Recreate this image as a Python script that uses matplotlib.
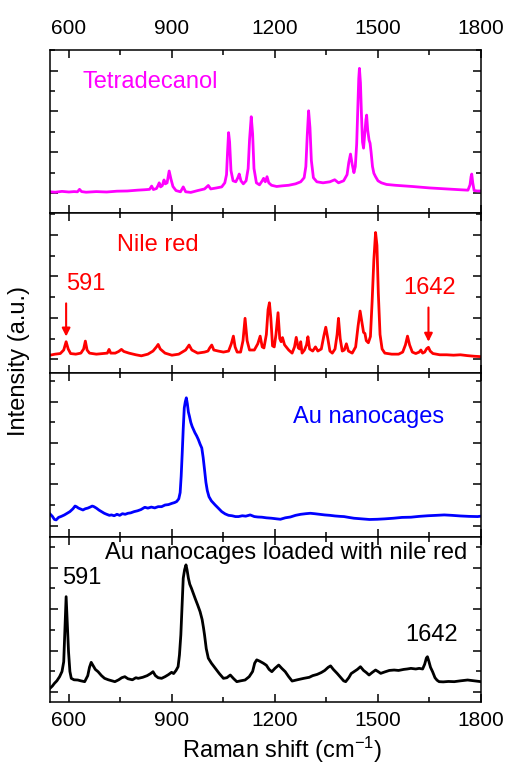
import matplotlib
matplotlib.use("Agg")
import matplotlib.pyplot as plt
from matplotlib.ticker import MultipleLocator

plt.rcParams['font.family'] = ['Liberation Sans', 'DejaVu Sans']
plt.rcParams['mathtext.fontset'] = 'custom'
plt.rcParams['mathtext.rm'] = 'Liberation Sans'
plt.rcParams['mathtext.it'] = 'Liberation Sans:italic'

# ---- Tetradecanol (magenta) ----
wn_tetra = [545, 560, 580, 600, 615, 625, 631, 637, 650, 680,
            710, 740, 770, 800, 820, 835, 841, 846, 855, 860,
            863, 867, 872, 877, 881, 886, 892, 897, 903, 912,
            925, 933, 940, 955, 975, 995, 1006, 1013, 1030, 1045,
            1054, 1059, 1062, 1065, 1068, 1072, 1078, 1086, 1092, 1096,
            1101, 1108, 1116, 1122, 1126, 1131, 1135, 1139, 1146, 1155,
            1163, 1167, 1172, 1177, 1182, 1190, 1205, 1220, 1240, 1260,
            1275, 1285, 1290, 1294, 1298, 1302, 1306, 1312, 1322, 1340,
            1360, 1374, 1385, 1400, 1410, 1415, 1420, 1425, 1430, 1434,
            1438, 1441, 1444, 1446, 1449, 1452, 1455, 1458, 1462, 1465,
            1467, 1470, 1474, 1477, 1480, 1484, 1488, 1493, 1500, 1510,
            1525, 1550, 1600, 1650, 1700, 1740, 1762, 1768, 1771, 1773,
            1776, 1780, 1790, 1800]
int_tetra = [0.06, 0.04, 0.08, 0.05, 0.07, 0.06, 0.18, 0.07, 0.04, 0.07,
             0.05, 0.09, 0.10, 0.14, 0.16, 0.18, 0.34, 0.17, 0.22, 0.38,
             0.50, 0.30, 0.36, 0.64, 0.45, 0.50, 1.08, 0.70, 0.32, 0.12,
             0.06, 0.30, 0.06, 0.03, 0.12, 0.20, 0.37, 0.20, 0.25, 0.30,
             0.50, 0.90, 2.00, 2.96, 2.50, 1.10, 0.60, 0.55, 0.75, 0.93,
             0.60, 0.45, 0.60, 1.20, 2.60, 3.74, 2.90, 1.20, 0.50, 0.40,
             0.60, 0.72, 0.55, 0.80, 0.50, 0.38, 0.32, 0.35, 0.38, 0.45,
             0.55, 0.75, 1.30, 2.80, 4.03, 3.20, 1.60, 0.75, 0.55, 0.50,
             0.55, 0.65, 0.50, 0.60, 0.90, 1.50, 1.91, 1.40, 1.00, 1.30,
             2.40, 4.00, 5.60, 6.11, 5.40, 3.80, 2.50, 2.20, 3.00, 3.60,
             3.82, 3.10, 2.60, 2.44, 2.00, 1.30, 0.97, 0.80, 0.60, 0.50,
             0.42, 0.38, 0.32, 0.25, 0.20, 0.16, 0.14, 0.40, 0.80, 0.93,
             0.50, 0.12, 0.10, 0.10]

# ---- Nile red (red) ----
wn_nile = [545, 560, 575, 585, 592, 598, 605, 620, 635, 643,
           648, 653, 660, 680, 700, 712, 717, 722, 735, 745,
           753, 760, 775, 795, 811, 830, 845, 855, 860, 866,
           880, 900, 920, 940, 950, 958, 975, 995, 1005, 1010,
           1016, 1022, 1035, 1050, 1065, 1073, 1079, 1084, 1090, 1100,
           1107, 1113, 1119, 1126, 1140, 1150, 1157, 1163, 1168, 1175,
           1180, 1184, 1188, 1193, 1198, 1203, 1209, 1214, 1218, 1222,
           1228, 1240, 1250, 1257, 1262, 1268, 1272, 1275, 1279, 1286,
           1292, 1296, 1301, 1310, 1318, 1325, 1335, 1342, 1348, 1354,
           1360, 1367, 1375, 1381, 1385, 1390, 1396, 1402, 1408, 1414,
           1425, 1435, 1442, 1448, 1453, 1458, 1462, 1466, 1472, 1478,
           1483, 1488, 1493, 1497, 1501, 1506, 1512, 1520, 1540, 1560,
           1572, 1580, 1586, 1592, 1600, 1610, 1620, 1625, 1630, 1636,
           1642, 1647, 1652, 1660, 1680, 1700, 1720, 1740, 1760, 1780,
           1800]
int_nile = [0.20, 0.25, 0.28, 0.45, 0.85, 0.50, 0.28, 0.25, 0.30, 0.50,
            0.88, 0.45, 0.30, 0.25, 0.28, 0.30, 0.48, 0.30, 0.30, 0.38,
            0.48, 0.38, 0.30, 0.22, 0.17, 0.25, 0.40, 0.60, 0.72, 0.50,
            0.30, 0.20, 0.25, 0.45, 0.69, 0.45, 0.30, 0.35, 0.40, 0.55,
            0.69, 0.45, 0.40, 0.35, 0.40, 0.75, 1.12, 0.60, 0.35, 0.35,
            0.90, 1.98, 0.90, 0.45, 0.45, 0.75, 1.12, 0.60, 0.55, 1.20,
            2.40, 2.73, 2.00, 0.65, 0.60, 1.20, 2.25, 1.00, 0.85, 1.05,
            0.70, 0.45, 0.30, 0.60, 1.06, 0.55, 0.50, 0.85, 0.30, 0.45,
            0.70, 1.09, 0.50, 0.40, 0.60, 0.40, 0.50, 1.10, 1.55, 1.00,
            0.40, 0.30, 0.50, 1.20, 1.98, 1.00, 0.40, 0.45, 0.75, 0.40,
            0.30, 0.60, 1.60, 2.33, 1.80, 1.30, 1.25, 0.90, 0.80, 1.10,
            2.80, 4.80, 6.12, 5.50, 3.20, 1.20, 0.50, 0.30, 0.25, 0.25,
            0.35, 0.70, 1.12, 0.70, 0.35, 0.28, 0.35, 0.45, 0.30, 0.35,
            0.52, 0.58, 0.40, 0.28, 0.22, 0.22, 0.20, 0.22, 0.18, 0.15,
            0.13]

# ---- Au nanocages (blue) ----
wn_au = [545, 552, 558, 563, 570, 578, 587, 595, 603, 612,
         618, 622, 628, 635, 641, 648, 655, 662, 668, 673,
         680, 688, 695, 703, 710, 718, 724, 732, 740, 748,
         756, 764, 772, 780, 790, 800, 810, 821, 830, 840,
         850, 860, 870, 880, 890, 900, 908, 914, 920, 924,
         927, 930, 933, 936, 939, 942, 945, 948, 951, 955,
         959, 963, 967, 972, 977, 982, 987, 991, 995, 999,
         1003, 1008, 1015, 1026, 1035, 1045, 1055, 1065, 1075, 1085,
         1094, 1105, 1115, 1128, 1140, 1150, 1162, 1175, 1190, 1205,
         1216, 1230, 1245, 1260, 1275, 1290, 1303, 1315, 1330, 1345,
         1360, 1375, 1390, 1401, 1415, 1430, 1445, 1460, 1475, 1498,
         1520, 1545, 1570, 1596, 1620, 1645, 1670, 1693, 1715, 1740,
         1765, 1790, 1800]
int_au = [0.57, 0.45, 0.30, 0.28, 0.40, 0.45, 0.52, 0.60, 0.68, 0.82,
          0.95, 0.92, 0.85, 0.80, 0.76, 0.82, 0.85, 0.90, 0.95, 0.92,
          0.85, 0.75, 0.68, 0.60, 0.55, 0.50, 0.52, 0.48, 0.55, 0.50,
          0.58, 0.55, 0.60, 0.62, 0.68, 0.72, 0.78, 0.89, 0.85, 0.90,
          0.86, 0.92, 0.92, 1.00, 1.02, 1.08, 1.12, 1.17, 1.30, 1.60,
          2.40, 3.50, 4.70, 5.70, 6.00, 6.19, 5.90, 5.50, 5.30, 5.00,
          4.80, 4.65, 4.50, 4.35, 4.17, 3.95, 3.76, 3.30, 2.71, 2.10,
          1.70, 1.40, 1.20, 1.00, 0.85, 0.68, 0.57, 0.50, 0.48, 0.44,
          0.44, 0.48, 0.46, 0.52, 0.44, 0.42, 0.41, 0.38, 0.36, 0.33,
          0.31, 0.38, 0.42, 0.50, 0.55, 0.58, 0.60, 0.58, 0.55, 0.52,
          0.50, 0.47, 0.45, 0.44, 0.40, 0.36, 0.34, 0.32, 0.30, 0.31,
          0.33, 0.36, 0.40, 0.41, 0.45, 0.48, 0.50, 0.52, 0.50, 0.47,
          0.45, 0.44, 0.46]

# ---- Au nanocages loaded with nile red (black) ----
wn_load = [545, 552, 558, 565, 573, 580, 585, 589, 592, 595,
           599, 603, 607, 615, 626, 635, 646, 655, 660, 665,
           670, 677, 685, 695, 704, 715, 725, 734, 745, 754,
           763, 772, 785, 795, 802, 815, 828, 838, 845, 852,
           860, 870, 880, 890, 899, 905, 912, 918, 922, 926,
           930, 933, 937, 941, 944, 948, 952, 957, 962, 968,
           975, 982, 988, 992, 995, 1000, 1006, 1015, 1026, 1038,
           1050, 1060, 1070, 1080, 1089, 1100, 1113, 1125, 1135, 1141,
           1147, 1155, 1166, 1175, 1183, 1191, 1200, 1211, 1220, 1230,
           1240, 1250, 1265, 1284, 1300, 1310, 1323, 1335, 1345, 1355,
           1362, 1370, 1381, 1392, 1400, 1406, 1415, 1422, 1430, 1440,
           1449, 1458, 1466, 1474, 1483, 1493, 1500, 1508, 1520, 1533,
           1547, 1560, 1575, 1585, 1596, 1610, 1620, 1630, 1636, 1641,
           1644, 1648, 1653, 1659, 1666, 1672, 1678, 1690, 1705, 1722,
           1740, 1761, 1780, 1800]
int_load = [0.19, 0.30, 0.43, 0.55, 0.75, 1.00, 1.47, 3.20, 4.60, 3.50,
            1.95, 1.00, 0.67, 0.60, 0.59, 0.55, 0.51, 0.80, 1.20, 1.44,
            1.30, 1.10, 0.99, 0.80, 0.67, 0.60, 0.55, 0.51, 0.60, 0.70,
            0.75, 0.65, 0.60, 0.70, 0.67, 0.72, 0.80, 0.90, 0.99, 0.80,
            0.70, 0.67, 0.75, 0.85, 0.96, 0.90, 1.05, 1.23, 1.80, 2.76,
            4.30, 5.49, 5.90, 6.13, 5.90, 5.49, 5.20, 5.00, 4.77, 4.50,
            4.20, 3.88, 3.50, 3.10, 2.76, 2.10, 1.64, 1.40, 1.16, 0.90,
            0.67, 0.70, 0.83, 0.65, 0.51, 0.55, 0.59, 0.75, 1.00, 1.40,
            1.56, 1.50, 1.40, 1.30, 1.10, 0.99, 1.15, 1.31, 1.15, 0.99,
            0.75, 0.54, 0.60, 0.67, 0.72, 0.80, 0.86, 0.95, 1.05, 1.20,
            1.27, 1.10, 0.91, 0.70, 0.55, 0.51, 0.70, 0.90, 0.99, 1.10,
            1.23, 1.05, 0.95, 0.83, 0.95, 1.07, 1.00, 0.91, 0.98, 1.05,
            1.07, 1.05, 1.10, 1.12, 1.15, 1.12, 1.15, 1.12, 1.35, 1.65,
            1.71, 1.50, 1.20, 0.99, 0.70, 0.58, 0.51, 0.50, 0.52, 0.51,
            0.55, 0.59, 0.55, 0.51]

fig = plt.figure(figsize=(5.09, 7.67), dpi=100)
gs = fig.add_gridspec(4, 1, height_ratios=[163, 160, 164, 165], hspace=0,
                      left=0.0982, right=0.945, top=0.9348, bottom=0.0847)
axes = [fig.add_subplot(gs[i]) for i in range(4)]

series = [(wn_tetra, int_tetra, '#ff00ff', (-0.98, 7.01)),
          (wn_nile, int_nile, '#ff0000', (-0.66, 7.06)),
          (wn_au, int_au, '#0000ff', (-0.55, 7.39)),
          (wn_load, int_load, 'black', (-0.47, 7.47))]

for i, (ax, (x, y, c, yl)) in enumerate(zip(axes, series)):
    ax.plot(x, y, color=c, lw=2.0)
    ax.set_xlim(545, 1800)
    ax.set_ylim(*yl)
    ax.xaxis.set_major_locator(MultipleLocator(300))
    ax.xaxis.set_minor_locator(MultipleLocator(150))
    ax.yaxis.set_major_locator(MultipleLocator(2))
    ax.yaxis.set_minor_locator(MultipleLocator(1))
    ax.tick_params(which='both', direction='in', top=True, bottom=True,
                   left=True, right=True, width=1.1, labelleft=False,
                   labelbottom=(i == 3), labeltop=(i == 0), labelsize=15)
    ax.tick_params(which='major', length=6)
    ax.tick_params(which='minor', length=3.5)
    for s in ax.spines.values():
        s.set_linewidth(1.1)
    if i == 0:
        ax.tick_params(axis='x', which='major', pad=9)
    if i == 3:
        ax.tick_params(axis='x', which='major', pad=6.5)

axes[0].text(836, 5.44, 'Tetradecanol', color='#ff00ff', fontsize=17,
             ha='center', va='center')
axes[1].text(859, 5.52, 'Nile red', color='#ff0000', fontsize=17,
             ha='center', va='center')
axes[1].text(648, 3.64, '591', color='#ff0000', fontsize=17,
             ha='center', va='center')
axes[1].text(1651, 3.44, '1642', color='#ff0000', fontsize=17,
             ha='center', va='center')
axes[1].annotate('', xy=(592, 1.1), xytext=(592, 2.7),
                 arrowprops=dict(arrowstyle='-|>', color='#ff0000', lw=1.5,
                                 mutation_scale=12, shrinkA=0, shrinkB=0))
axes[1].annotate('', xy=(1647, 0.85), xytext=(1647, 2.5),
                 arrowprops=dict(arrowstyle='-|>', color='#ff0000', lw=1.5,
                                 mutation_scale=12, shrinkA=0, shrinkB=0))
axes[2].text(1473, 5.28, 'Au nanocages', color='#0000ff', fontsize=17,
             ha='center', va='center')
axes[3].text(1233, 6.69, 'Au nanocages loaded with nile red', color='black',
             fontsize=17, ha='center', va='center')
axes[3].text(639, 5.49, '591', color='black', fontsize=17,
             ha='center', va='center')
axes[3].text(1655, 2.76, '1642', color='black', fontsize=17,
             ha='center', va='center')

fig.text(19 / 509, 0.529, 'Intensity (a.u.)', rotation=90, fontsize=17,
         ha='center', va='center')
fig.text(0.555, 1 - 750 / 767, r'Raman shift (cm$^{-1}$)', fontsize=17,
         ha='center', va='center')

fig.savefig('out.png', dpi=100)
